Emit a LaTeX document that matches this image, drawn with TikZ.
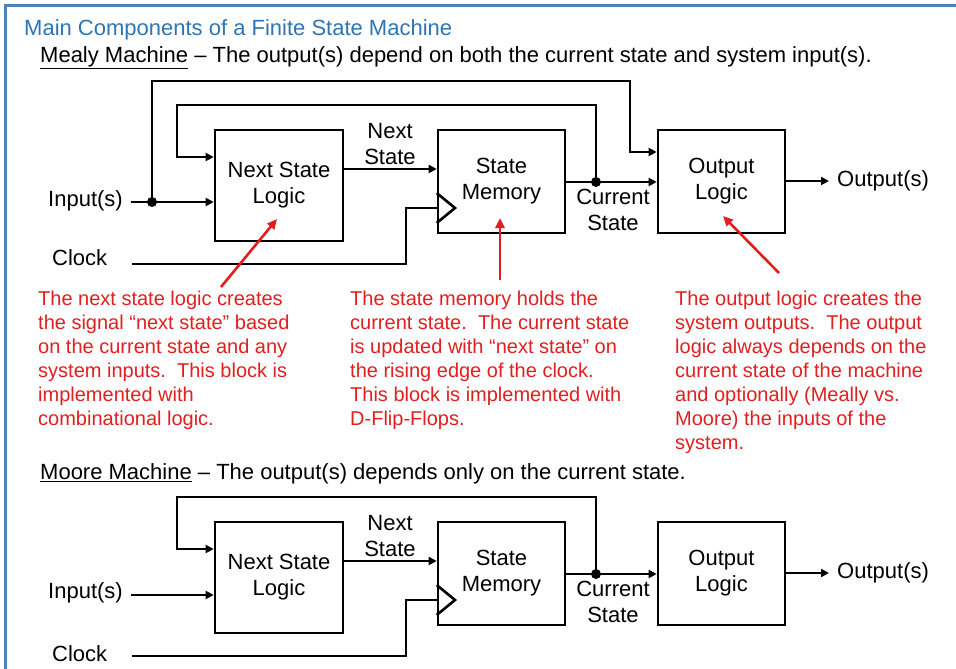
\documentclass[tikz,border=0pt]{standalone}
\usepackage{fontspec}
\setmainfont{Liberation Sans}
\usetikzlibrary{arrows.meta}
\definecolor{titleblue}{HTML}{2E75B6}
\definecolor{borderblue}{HTML}{4F81BD}
\definecolor{notered}{HTML}{E0201F}
\begin{document}
\begin{tikzpicture}[x=1pt,y=-1pt,
  wire/.style={line width=2.6, line cap=rect},
  arr/.style={wire, -{Triangle[length=8,width=8]}},
  redarr/.style={notered, line width=2.6, -{Triangle[length=10,width=9]}},
  box/.style={draw, line width=2.6, inner sep=0, align=center, font=\fontsize{22}{26}\selectfont},
  lbl/.style={inner sep=0, align=center, font=\fontsize{22}{26}\selectfont},
  note/.style={inner sep=0, align=left, text=notered, font=\fontsize{20}{24}\selectfont, anchor=north west},
  head/.style={inner sep=0, anchor=west, font=\fontsize{22}{26}\selectfont},
  dotn/.style={circle, fill=black, inner sep=0, minimum size=10}]
\useasboundingbox (0,0) rectangle (956,669);
\fill[white] (0,0) rectangle (956,669);
\draw[borderblue, line width=3] (5,680) -- (5,6) -- (970,6);

\node[head, text=titleblue] (title) at (24,30) {Main Components of a Finite State Machine};
\node[head] (mealyhead) at (40,58) {\underline{Mealy Machine} -- The output(s) depend on both the current state and system input(s).};
\node[head] (moorehead) at (40,474) {\underline{Moore Machine} -- The output(s) depends only on the current state.};

% ---------------- Mealy ----------------
\node[box, minimum width=128, minimum height=111] (nsl) at (279,185.5) {Next State\\Logic};
\node[box, minimum width=127, minimum height=103] (sm) at (501.5,181.5) {State\\Memory};
\node[box, minimum width=127, minimum height=103] (ol) at (721.5,181.5) {Output\\Logic};

\node[lbl, anchor=east] (inp) at (123,201) {Input(s)};
\node[lbl, anchor=west] (clk) at (52,258) {Clock};
\node[lbl, anchor=west] (outp) at (837,181) {Output(s)};
\node[lbl] (nslbl) at (390,144) {Next\\State};
\node[lbl] (cslbl) at (613,210) {Current\\State};

\coordinate (inA) at (132,202);
\node[dotn] (dIn) at (152,202) {};
\node[dotn] (dCs) at (596,182) {};
\coordinate (clkA) at (133,264);
\coordinate (outA) at (829,181);

\draw[arr] (inA) -- (nsl.west |- inA);
\draw[arr] (dIn.center) -- (152,81) -- (630,81) -- (630,152) -- (ol.west |- {(0,152)});
\draw[arr] (dCs.center) -- (596,105) -- (177,105) -- (177,157) -- (nsl.west |- {(0,157)});
\draw[arr] (nsl.east |- {(0,169)}) -- (sm.west |- {(0,169)});
\draw[arr] (sm.east |- dCs) -- (ol.west |- dCs);
\draw[arr] (ol.east |- outA) -- (outA);
\draw[wire] (clkA) -- (406,264) -- (406,208) -- (sm.west |- {(0,208)});
\draw[line width=2.6, line join=miter] (sm.west |- {(0,193)}) -- (455,208) -- (sm.west |- {(0,223)});

% red notes
\node[note] (n1) at (38,291) {The next state logic creates\\the signal “next state” based\\on the current state and any\\system inputs.\ \ This block is\\implemented with\\combinational logic.};
\node[note] (n2) at (350,291) {The state memory holds the\\current state.\ \ The current state\\is updated with “next state” on\\the rising edge of the clock.\\This block is implemented with\\D-Flip-Flops.};
\node[note] (n3) at (675,291) {The output logic creates the\\system outputs.\ \ The output\\logic always depends on the\\current state of the machine\\and optionally (Meally vs.\\Moore) the inputs of the\\system.};
\coordinate (a1) at (221,287);
\coordinate (a2) at (500,280);
\coordinate (a3) at (779,273);
\draw[redarr] (a1) -- (277,219);
\draw[redarr] (a2) -- (500,218);
\draw[redarr] (a3) -- (723,216);

% ---------------- Moore ----------------
\node[box, minimum width=128, minimum height=111] (mnsl) at (279,577.5) {Next State\\Logic};
\node[box, minimum width=127, minimum height=103] (msm) at (501.5,573.5) {State\\Memory};
\node[box, minimum width=127, minimum height=103] (mol) at (721.5,573.5) {Output\\Logic};

\node[lbl, anchor=east] (minp) at (123,593) {Input(s)};
\node[lbl, anchor=west] (mclk) at (52,654) {Clock};
\node[lbl, anchor=west] (moutp) at (837,573) {Output(s)};
\node[lbl] (mnslbl) at (390,536) {Next\\State};
\node[lbl] (mcslbl) at (613,602) {Current\\State};

\coordinate (minA) at (132,595);
\node[dotn] (mdCs) at (596,574) {};
\coordinate (mclkA) at (133,656);
\coordinate (moutA) at (829,573);

\draw[arr] (minA) -- (mnsl.west |- minA);
\draw[arr] (mdCs.center) -- (596,497) -- (177,497) -- (177,549) -- (mnsl.west |- {(0,549)});
\draw[arr] (mnsl.east |- {(0,561)}) -- (msm.west |- {(0,561)});
\draw[arr] (msm.east |- mdCs) -- (mol.west |- mdCs);
\draw[arr] (mol.east |- moutA) -- (moutA);
\draw[wire] (mclkA) -- (406,656) -- (406,600) -- (msm.west |- {(0,600)});
\draw[line width=2.6, line join=miter] (msm.west |- {(0,585)}) -- (455,600) -- (msm.west |- {(0,615)});
\end{tikzpicture}
\end{document}
